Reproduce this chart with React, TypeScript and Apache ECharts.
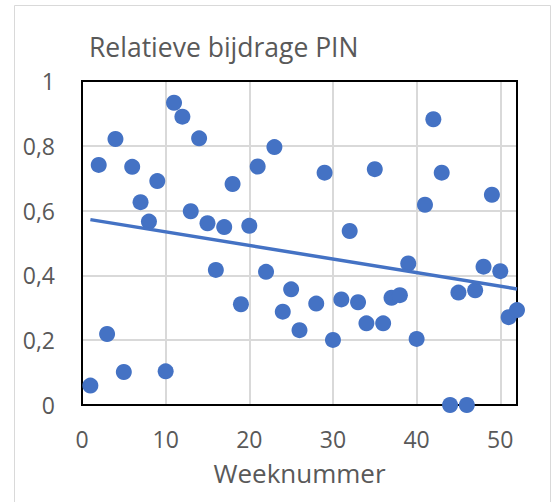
import React, { useEffect, useRef } from "react";
import * as echarts from "echarts";

const weeks = [1,2,3,4,5,6,7,8,9,10,11,12,13,14,15,16,17,18,19,20,21,22,23,24,25,26,28,29,30,31,32,33,34,35,36,37,38,39,40,41,42,43,44,45,46,47,48,49,50,51,52];
const values = [0.06,0.741,0.219,0.821,0.102,0.735,0.626,0.566,0.691,0.104,0.933,0.89,0.598,0.823,0.561,0.417,0.549,0.682,0.311,0.553,0.736,0.411,0.796,0.288,0.357,0.231,0.313,0.717,0.201,0.326,0.537,0.317,0.252,0.728,0.252,0.331,0.339,0.437,0.204,0.618,0.882,0.717,0,0.347,0,0.354,0.427,0.649,0.413,0.271,0.293];
const xTicks = [0,10,20,30,40,50];
const yTicks = [0,0.2,0.4,0.6,0.8,1];

const TITLE = "Relatieve bijdrage PIN";
const X_NAME = "Weeknummer";
const COLOR = "#4472C4";
const TEXT = "#595959";
const FONT = "Open Sans";

const W = 558;
const H = 502;
const G = { left: 82, top: 81, right: 41, bottom: 97 };

function regression(xs: number[], ys: number[]) {
  const n = xs.length;
  const mx = xs.reduce((a, b) => a + b, 0) / n;
  const my = ys.reduce((a, b) => a + b, 0) / n;
  let sxy = 0, sxx = 0;
  for (let i = 0; i < n; i++) {
    sxy += (xs[i] - mx) * (ys[i] - my);
    sxx += (xs[i] - mx) * (xs[i] - mx);
  }
  const b = sxy / sxx;
  return { a: my - b * mx, b };
}

export default function App() {
  const ref = useRef<HTMLDivElement>(null);
  useEffect(() => {
    if (!ref.current) return;
    const chart = echarts.init(ref.current, null, { renderer: "svg" });
    const { a, b } = regression(weeks, values);
    const x0 = Math.min(...weeks);
    const x1 = Math.max(...weeks);
    chart.setOption({
      animation: false,
      backgroundColor: "#fff",
      graphic: [
        {
          type: "rect",
          shape: { x: 14.5, y: 5.5, width: 536, height: 520 },
          style: { fill: "none", stroke: "#D9D9D9", lineWidth: 1 },
          z: -1,
        },
        {
          type: "rect",
          shape: {
            x: G.left,
            y: G.top,
            width: W - G.left - G.right,
            height: H - G.top - G.bottom,
          },
          style: { fill: "none", stroke: "#000", lineWidth: 2 },
          z: 1,
        },
      ],
      title: {
        text: TITLE,
        left: 84,
        top: 28,
        textStyle: { fontFamily: FONT, fontSize: 26.5, fontWeight: "normal", color: TEXT },
      },
      grid: { ...G, show: false },
      xAxis: {
        type: "value",
        min: 0,
        max: 52,
        interval: 10,
        name: X_NAME,
        nameLocation: "middle",
        nameGap: 55,
        nameTextStyle: { fontFamily: FONT, fontSize: 26, color: TEXT },
        axisLine: { show: false },
        axisTick: { show: false },
        axisLabel: {
          fontFamily: FONT,
          fontSize: 23,
          color: TEXT,
          margin: 22,
          showMaxLabel: false,
          formatter: (v: number) => (xTicks.includes(v) ? String(v) : ""),
        },
        splitLine: { show: true, lineStyle: { color: "#D9D9D9", width: 2 } },
      },
      yAxis: {
        type: "value",
        min: 0,
        max: 1,
        interval: 0.2,
        axisLine: { show: false },
        axisTick: { show: false },
        axisLabel: {
          fontFamily: FONT,
          fontSize: 23,
          color: TEXT,
          margin: 27,
          formatter: (v: number) => {
            const t = yTicks.find((y) => Math.abs(y - v) < 1e-9);
            if (t === undefined) return "";
            return t === 0 || t === 1 ? String(t) : t.toFixed(1).replace(".", ",");
          },
        },
        splitLine: { show: true, lineStyle: { color: "#D9D9D9", width: 2 } },
      },
      series: [
        {
          type: "scatter",
          data: weeks.map((w, i) => [w, values[i]]),
          symbol: "circle",
          symbolSize: 16,
          clip: false,
          itemStyle: { color: COLOR, opacity: 1 },
          z: 3,
        },
        {
          type: "line",
          data: [
            [x0, a + b * x0],
            [x1, a + b * x1],
          ],
          showSymbol: false,
          symbol: "none",
          clip: false,
          lineStyle: { color: COLOR, width: 3.5 },
          z: 4,
        },
      ],
    });
    return () => chart.dispose();
  }, []);
  return (
    <div
      ref={ref}
      style={{ position: "absolute", left: 0, top: 0, width: W, height: H }}
    />
  );
}
